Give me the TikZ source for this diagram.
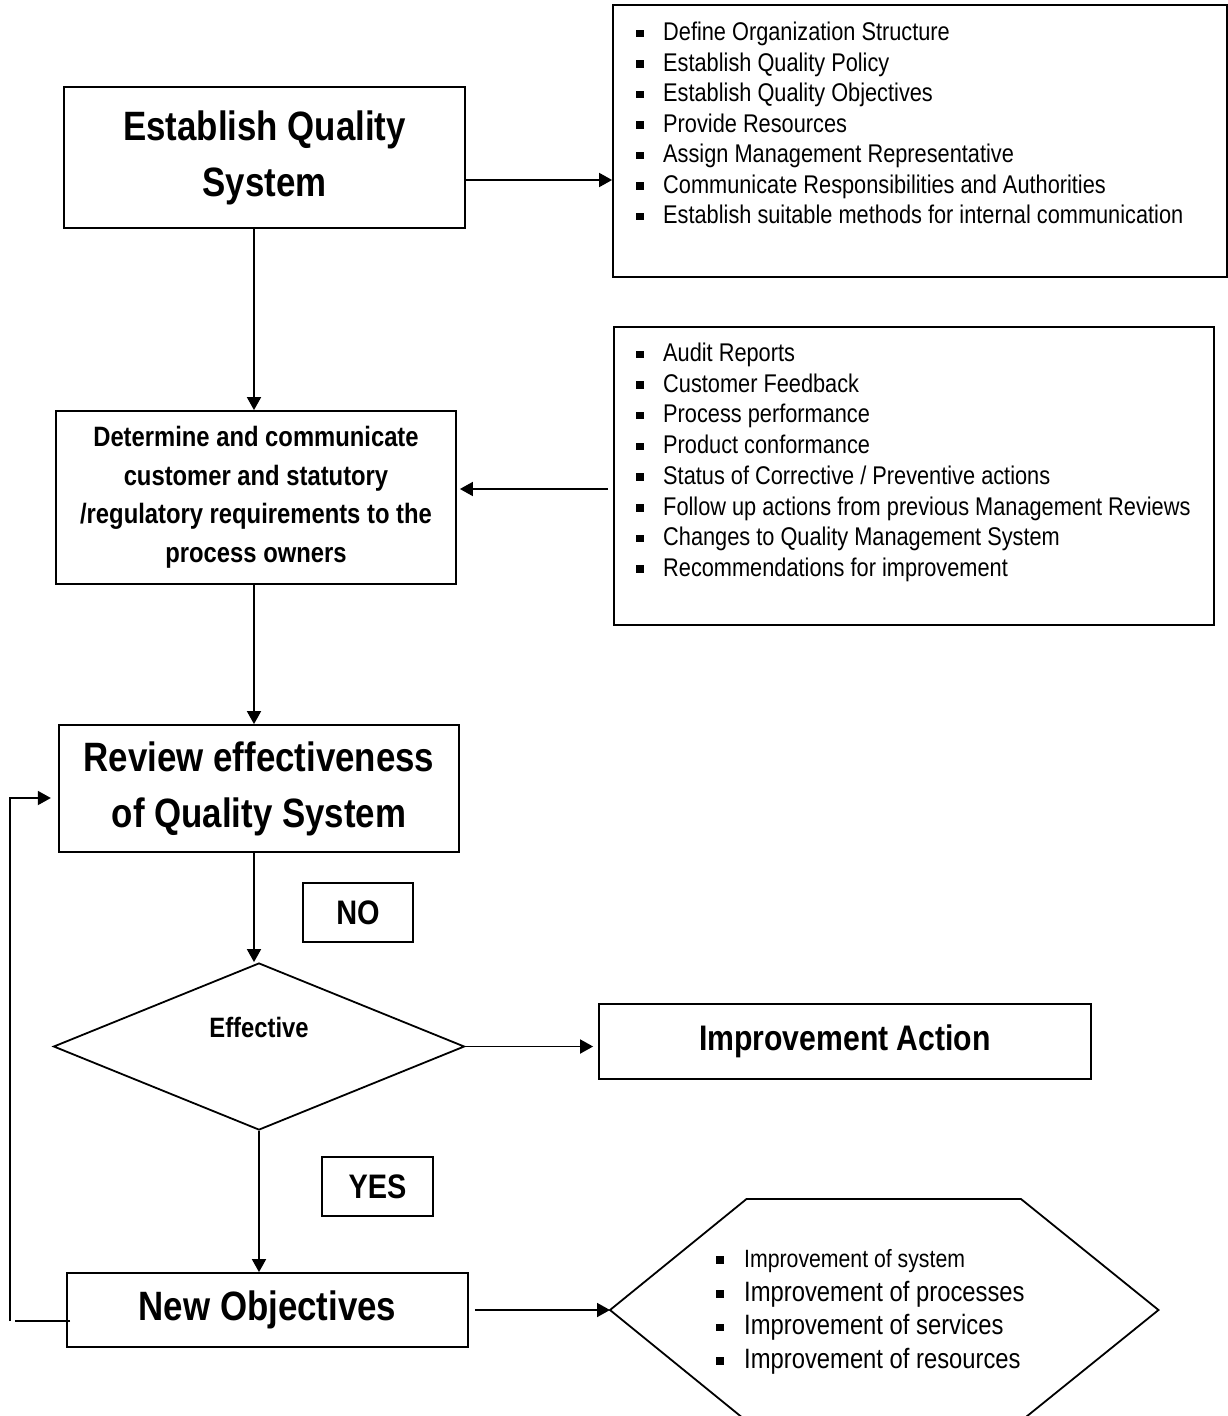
\documentclass[tikz,border=0pt]{standalone}
\usepackage{fontspec}
\setmainfont[FakeStretch=0.85]{Liberation Sans}
\usetikzlibrary{arrows.meta,shapes.geometric}

% square bullet followed by a fixed gap before the item text
\newcommand{\sqbullet}[1]{\makebox[#1][l]{\rule[3.5pt]{7.5pt}{7.5pt}}}

\tikzset{
  ln/.style={line width=1.8pt},
  arr/.style={ln, -{Triangle[length=13pt,width=14pt]}},
  box/.style={draw, ln, inner sep=0pt, align=center},
  titletext/.style={font=\bfseries\fontsize{41}{56}\selectfont},
  steptext/.style={font=\bfseries\fontsize{28}{38.5}\selectfont},
  actiontext/.style={font=\bfseries\fontsize{35.5}{42}\selectfont},
  tagtext/.style={font=\bfseries\fontsize{34}{40}\selectfont},
  itemtext/.style={font=\fontsize{25.6}{30}\selectfont, inner sep=0pt, anchor=base west},
}

\begin{document}
\begin{tikzpicture}[x=1pt,y=-1pt]
\useasboundingbox (0,0) rectangle (1228,1416);
\clip (0,0) rectangle (1228,1416);

% main process boxes
\node[box, titletext, minimum width=401pt, minimum height=141pt] (establish) at (264.5,157.5) {Establish Quality\\System};
\node[box, minimum width=614pt, minimum height=272pt] (policy) at (920,141) {};
\node[box, steptext, minimum width=400pt, minimum height=173pt] (determine) at (256,497.5)
  {Determine and communicate\\customer and statutory\\/regulatory requirements to the\\process owners};
\node[box, minimum width=600pt, minimum height=298pt] (inputs) at (914,476) {};
\node[box, titletext, minimum width=400.5pt, minimum height=127pt] (review) at (259,788.5) {Review effectiveness\\of Quality System};
\node[box, tagtext, minimum width=110pt, minimum height=59pt] (no) at (358,912.5) {NO};
\node[draw, ln, diamond, inner sep=0pt, minimum width=411pt, minimum height=167pt] (effective) at (259,1046.5) {};
\node[font=\bfseries\fontsize{28}{32}\selectfont, anchor=base, inner sep=0pt] (efflabel) at (259,1037) {Effective};
\node[box, actiontext, minimum width=492pt, minimum height=75pt] (improve) at (845,1041.5) {Improvement Action};
\node[box, tagtext, minimum width=111pt, minimum height=59pt] (yes) at (377.5,1186.5) {YES};
\node[box, titletext, minimum width=401pt, minimum height=74pt] (newobj) at (267.5,1310) {New Objectives};

% improvement hexagon (runs past the lower edge)
\coordinate (hexL)  at (610,1310);
\coordinate (hexTL) at (746.5,1199);
\coordinate (hexTR) at (1021,1199);
\coordinate (hexR)  at (1158.5,1310);
\coordinate (hexBR) at (1021,1421);
\coordinate (hexBL) at (746.5,1421);
\draw[ln] (hexL) -- (hexTL) -- (hexTR) -- (hexR) -- (hexBR) -- (hexBL) -- cycle;

% bullet lists
\foreach \t [count=\i] in {Define Organization Structure, Establish Quality Policy,
  Establish Quality Objectives, Provide Resources, Assign Management Representative,
  Communicate Responsibilities and Authorities,
  Establish suitable methods for internal communication}
  \node[itemtext] (pol\i) at (636,{40.5+30.55*(\i-1)}) {\sqbullet{27pt}\t};

\foreach \t [count=\i] in {Audit Reports, Customer Feedback, Process performance,
  Product conformance, Status of Corrective / Preventive actions,
  Follow up actions from previous Management Reviews,
  Changes to Quality Management System, Recommendations for improvement}
  \node[itemtext] (inp\i) at (636,{361.5+30.7*(\i-1)}) {\sqbullet{27pt}\t};

\node[itemtext, font=\fontsize{25}{30}\selectfont] (imp1) at (716,1267) {\sqbullet{28pt}Improvement of system};
\foreach \t [count=\i from 2] in {Improvement of processes, Improvement of services,
  Improvement of resources}
  \node[itemtext, font=\fontsize{28}{32}\selectfont] (imp\i) at (716,{1301+33.5*(\i-2)}) {\sqbullet{28pt}\t};

% connectors
\coordinate (spine) at (254,0);
\coordinate (rowA) at (0,180);
\coordinate (rowB) at (0,489);
\coordinate (loopBot) at (10,1321);
\coordinate (loopTop) at (10,798);

\draw[arr] (establish.east |- rowA) -- (policy.west |- rowA);
\draw[arr] (establish.south -| spine) -- (determine.north -| spine);
\draw[arr] ([xshift=-5pt]inputs.west |- rowB) -- ([xshift=3pt]determine.east |- rowB);
\draw[arr] (determine.south -| spine) -- (review.north -| spine);
\draw[arr] (review.south -| spine) -- (effective.north -| spine);
\draw[arr] (effective.east) -- ([xshift=-5pt]improve.west |- effective.east);
\draw[arr] (effective.south) -- (newobj.north -| effective.south);
\draw[arr] ([xshift=6pt]newobj.east) -- (hexL);
\draw[ln] ([xshift=4pt]newobj.west |- loopBot) -- (15,1321);
\draw[arr] (loopBot) -- (loopTop) -- ([xshift=-7pt]review.west |- loopTop);
\end{tikzpicture}
\end{document}
